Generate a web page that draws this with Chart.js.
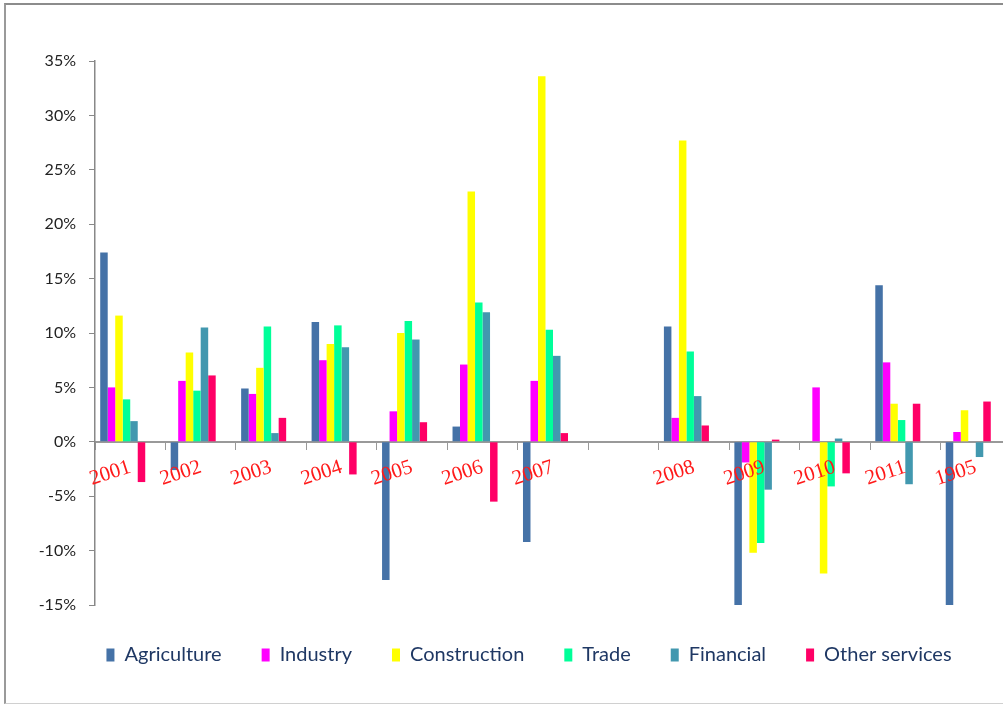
<!DOCTYPE html>
<html>
<head>
<meta charset="utf-8">
<script src="https://cdn.jsdelivr.net/npm/chart.js@4.4.1/dist/chart.umd.min.js"></script>
<style>
  html, body { margin: 0; padding: 0; background: #fff; overflow: hidden; }
  #wrap { position: relative; width: 1003px; height: 705px; overflow: hidden; }
  #frame {
    position: absolute; left: 4px; top: 3px; width: 1100px; height: 698px;
    border-top: 2px solid #8c8c8c; border-left: 2px solid #9a9a9a; border-bottom: 1px solid #d0d0d0;
    pointer-events: none;
  }
  canvas { position: absolute; left: 0; top: 0; }
</style>
</head>
<body>
<div id="wrap">
  <canvas id="c" width="1060" height="705"></canvas>
  <div id="frame"></div>
</div>
<script>
// Annual growth by sector, in percent
const years = ['2001', '2002', '2003', '2004', '2005', '2006', '2007', '', '2008', '2009', '2010', '2011', '1905'];

const agriculture   = [17.4, -2.6, 4.9, 11.0, -12.7, 1.4, -9.2, null, 10.6, -15.2, null, 14.4, -15.2];
const industry      = [5.0, 5.6, 4.4, 7.5, 2.8, 7.1, 5.6, null, 2.2, -1.9, 5.0, 7.3, 0.9];
const construction  = [11.6, 8.2, 6.8, 9.0, 10.0, 23.0, 33.6, null, 27.7, -10.2, -12.1, 3.5, 2.9];
const trade         = [3.9, 4.7, 10.6, 10.7, 11.1, 12.8, 10.3, null, 8.3, -9.3, -4.1, 2.0, null];
const financial     = [1.9, 10.5, 0.8, 8.7, 9.4, 11.9, 7.9, null, 4.2, -4.4, 0.3, -3.9, -1.4];
const otherServices = [-3.7, 6.1, 2.2, -3.0, 1.8, -5.5, 0.8, null, 1.5, 0.2, -2.9, 3.5, 3.7];

const yTicks = { min: -15, max: 35, step: 5 };

const seriesNames  = ['Agriculture', 'Industry', 'Construction', 'Trade', 'Financial', 'Other services'];
const seriesValues = [agriculture, industry, construction, trade, financial, otherServices];
const seriesColors = ['#4572A7', '#FF00FF', '#FFFF00', '#00FF99', '#4298AF', '#FF0066'];

const datasets = seriesNames.map((name, i) => ({
  label: name,
  data: seriesValues[i],
  backgroundColor: seriesColors[i],
  borderWidth: 0
}));
// two empty slots keep each group left of the category centre
const blank = years.map(() => null);
datasets.push({ label: '', data: blank, backgroundColor: 'rgba(0,0,0,0)', spacer: true });
datasets.push({ label: '', data: blank, backgroundColor: 'rgba(0,0,0,0)', spacer: true });

// centre the legend row on a narrower band than the full canvas
const legendBand = {
  id: 'legendBand',
  afterLayout(chart) {
    const lg = chart.legend;
    if (!lg) return;
    lg.left = 47;
    lg.right = chart.chartArea.right;
    lg.width = lg.right - lg.left;
  }
};

new Chart(document.getElementById('c'), {
  type: 'bar',
  data: { labels: years, datasets },
  plugins: [legendBand],
  options: {
    responsive: false,
    animation: false,
    layout: { padding: { left: 0, right: 49, top: 61, bottom: 30 } },
    datasets: { bar: { categoryPercentage: 0.852, barPercentage: 1.0 } },
    plugins: {
      tooltip: { enabled: false },
      legend: {
        position: 'bottom',
        labels: {
          boxWidth: 8,
          boxHeight: 13,
          padding: 40,
          color: '#1f3864',
          font: { family: 'Lato, "Open Sans", sans-serif', size: 20 },
          filter: (item, data) => !data.datasets[item.datasetIndex].spacer
        }
      }
    },
    scales: {
      x: {
        position: { y: 0 },
        afterFit: s => { s.height = 0; },
        grid: { drawOnChartArea: false, drawTicks: true, tickLength: 7, color: '#999', offset: true },
        border: { color: '#999', width: 2 },
        ticks: {
          z: 1,
          autoSkip: false,
          minRotation: 18,
          maxRotation: 18,
          padding: 6,
          color: '#ff1a1a',
          font: { family: '"Liberation Serif", "Times New Roman", serif', size: 21 }
        }
      },
      y: {
        min: yTicks.min,
        max: yTicks.max,
        afterFit: s => { s.width = 95; },
        grid: { drawOnChartArea: false, drawTicks: true, tickLength: 6, color: '#888' },
        border: { color: '#888', width: 1.5 },
        ticks: {
          stepSize: yTicks.step,
          padding: 13,
          color: '#222',
          font: { family: 'Lato, "Open Sans", sans-serif', size: 16 },
          callback: v => v + '%'
        }
      }
    }
  }
});
</script>
</body>
</html>
